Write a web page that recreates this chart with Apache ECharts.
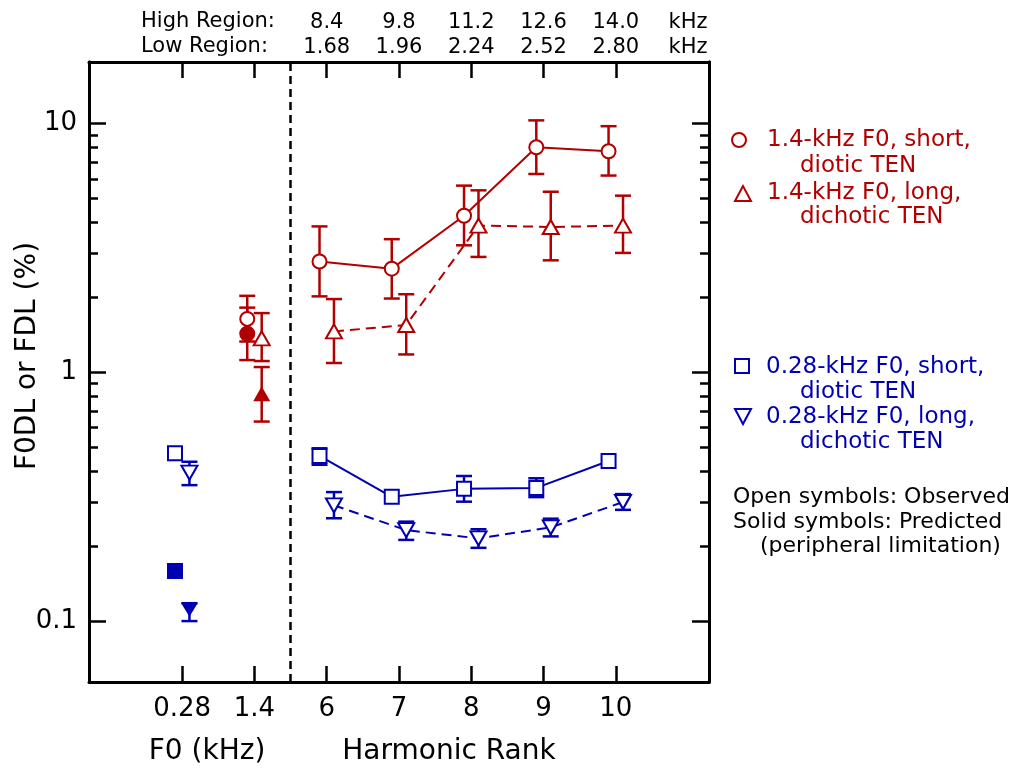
<!DOCTYPE html>
<html>
<head>
<meta charset="utf-8">
<title>F0DL / FDL</title>
<script src="https://cdn.jsdelivr.net/npm/echarts@6/dist/echarts.min.js"></script>
<style>
html, body { margin: 0; padding: 0; background: #fff; }
#chart { width: 1021px; height: 771px; }
</style>
</head>
<body>
<div id="chart"></div>
<script>
// x categories (bottom axis): two F0 values, then harmonic ranks 6..10
const bottomTickLabels = ['0.28', '1.4', '6', '7', '8', '9', '10'];
const harmonicRanks = ['6', '7', '8', '9', '10'];
const highRegionKHz = ['8.4', '9.8', '11.2', '12.6', '14.0', 'kHz'];
const lowRegionKHz = ['1.68', '1.96', '2.24', '2.52', '2.80', 'kHz'];
const yTickValues = [0.1, 1, 10];
const yTickLabels = ['0.1', '1', '10'];
const yRange = [0.0569, 17.68];

// harmonic-rank conditions (observed)
const red14Short = [2.79, 2.61, 4.26, 8.03, 7.74];
const red14ShortLo = [2.02, 1.98, 3.24, 6.27, 6.18];
const red14ShortHi = [3.86, 3.43, 5.63, 10.3, 9.76];

const red14Long = [1.46, 1.55, 3.89, 3.84, 3.89];
const red14LongLo = [1.09, 1.18, 2.91, 2.82, 3.02];
const red14LongHi = [1.97, 2.06, 5.39, 5.32, 5.13];

const blue028Short = [0.461, 0.316, 0.340, 0.343, 0.440];
const blue028ShortLo = [0.425, null, 0.302, 0.315, null];
const blue028ShortHi = [0.495, null, 0.383, 0.375, null];

const blue028Long = [0.292, 0.232, 0.215, 0.238, 0.301];
const blue028LongLo = [0.259, 0.212, 0.197, 0.219, 0.280];
const blue028LongHi = [0.330, 0.251, 0.234, 0.258, 0.324];

// F0 conditions: observed (open) and predicted (solid)
const f0Red = '1.4';
const f0Blue = '0.28';
const red14ShortF0 = 1.64, red14ShortF0Lo = 1.33, red14ShortF0Hi = 2.03;
const red14LongF0 = 1.37, red14LongF0Lo = 1.11, red14LongF0Hi = 1.73;
const blue028ShortF0 = 0.473, blue028ShortF0Lo = 0.445, blue028ShortF0Hi = 0.50;
const blue028LongF0 = 0.395, blue028LongF0Lo = 0.352, blue028LongF0Hi = 0.437;
const red14ShortPred = 1.43, red14ShortPredLo = 1.12, red14ShortPredHi = 1.82;
const red14LongPred = 0.82, red14LongPredLo = 0.634, red14LongPredHi = 1.05;
const blue028ShortPred = 0.159;
const blue028LongPred = 0.111, blue028LongPredLo = 0.100, blue028LongPredHi = 0.118;

const RED = '#b20000';
const BLUE = '#0000b2';
const FONT = 'DejaVu Sans';
const SHIFT = 0.1;      // left/right jitter of the paired symbols
const dividerAt = 1.5;  // dashed line between F0 panel and harmonic panel

const lg = Math.log10;
const xOf = (label) => bottomTickLabels.indexOf(label);
const pts = (vals, dx) => vals.map((v, i) => [xOf(harmonicRanks[i]) + dx, lg(v)]);
const bars = (lo, hi, dx) => lo.map((l, i) => l == null ? null : [xOf(harmonicRanks[i]) + dx, lg(l), lg(hi[i])]).filter(d => d);

// minor log ticks 0.2..0.9 and 2..9
const minorTicks = [];
[0.1, 1].forEach(d => {
    for (let k = 2; k <= 9; k++) minorTicks.push(lg(d * k));
});

const errorBar = (params, api) => {
    const x = api.value(0);
    const pLo = api.coord([x, api.value(1)]);
    const pHi = api.coord([x, api.value(2)]);
    const w = 8;
    const style = { stroke: api.visual('color'), lineWidth: 2.5, fill: null };
    return {
        type: 'group',
        children: [
            { type: 'line', shape: { x1: pHi[0], y1: pHi[1], x2: pLo[0], y2: pLo[1] }, style },
            { type: 'line', shape: { x1: pHi[0] - w, y1: pHi[1], x2: pHi[0] + w, y2: pHi[1] }, style },
            { type: 'line', shape: { x1: pLo[0] - w, y1: pLo[1], x2: pLo[0] + w, y2: pLo[1] }, style }
        ]
    };
};

const errSeries = (data, color) => ({
    type: 'custom',
    renderItem: errorBar,
    itemStyle: { color: color },
    encode: { x: 0, y: [1, 2] },
    data: data,
    z: 1,
    silent: true
});

const openSym = (color) => ({ color: '#fff', borderColor: color, borderWidth: 2, opacity: 1 });
const solidSym = (color) => ({ color: color, opacity: 1 });

const xMin = -1.29, xMax = 7.29;
const tickIdx = bottomTickLabels.map((_, i) => i);
const topLabelIdx = highRegionKHz.map((_, i) => i + 2);

const xAxisBase = {
    type: 'value', min: xMin, max: xMax,
    splitLine: { show: false },
    axisLine: { onZero: false, lineStyle: { color: '#000', width: 3 } },
    axisTick: { inside: true, length: 16, customValues: tickIdx, lineStyle: { color: '#000', width: 2.5 } }
};
const yAxisBase = (pos, major) => ({
    type: 'value', position: pos, min: lg(yRange[0]), max: lg(yRange[1]),
    splitLine: { show: false },
    axisLine: { onZero: false, lineStyle: { color: '#000', width: 3 } },
    axisTick: {
        inside: true, length: major ? 17 : 9,
        customValues: major ? yTickValues.map(lg) : minorTicks,
        lineStyle: { color: '#000', width: 2.5 }
    },
    axisLabel: (major && pos === 'left') ? {
        customValues: yTickValues.map(lg),
        formatter: (v) => yTickLabels[yTickValues.map(lg).findIndex(t => Math.abs(t - v) < 1e-6)],
        color: '#000', fontSize: 26, fontFamily: FONT, margin: 12
    } : { show: false }
});

const textStyle = (text, x, y, color, size, align) => ({
    type: 'text', x: x, y: y,
    style: { text: text, fill: color, font: size + 'px "' + FONT + '"', align: align || 'left', verticalAlign: 'middle' }
});

const chart = echarts.init(document.getElementById('chart'));
chart.setOption({
    backgroundColor: '#fff',
    animation: false,
    grid: { left: 89, top: 62, width: 620, height: 620 },
    xAxis: [
        Object.assign({}, xAxisBase, {
            position: 'bottom',
            axisLabel: {
                customValues: tickIdx,
                formatter: (v) => bottomTickLabels[Math.round(v)],
                color: '#000', fontSize: 26, fontFamily: FONT, margin: 14
            }
        }),
        Object.assign({}, xAxisBase, {
            position: 'top',
            axisLabel: {
                customValues: topLabelIdx,
                formatter: (v) => highRegionKHz[Math.round(v) - 2] + '\n' + lowRegionKHz[Math.round(v) - 2],
                color: '#000', fontSize: 21, lineHeight: 25, fontFamily: FONT, margin: 2
            }
        })
    ],
    yAxis: [
        yAxisBase('left', true),
        yAxisBase('left', false),
        yAxisBase('right', true),
        yAxisBase('right', false)
    ],
    series: [
        errSeries(bars(red14ShortLo, red14ShortHi, -SHIFT), RED),
        errSeries(bars(red14LongLo, red14LongHi, SHIFT), RED),
        errSeries(bars(blue028ShortLo, blue028ShortHi, -SHIFT), BLUE),
        errSeries(bars(blue028LongLo, blue028LongHi, SHIFT), BLUE),
        errSeries([
            [xOf(f0Red) - SHIFT, lg(red14ShortF0Lo), lg(red14ShortF0Hi)],
            [xOf(f0Red) - SHIFT, lg(red14ShortPredLo), lg(red14ShortPredHi)],
            [xOf(f0Red) + SHIFT, lg(red14LongF0Lo), lg(red14LongF0Hi)],
            [xOf(f0Red) + SHIFT, lg(red14LongPredLo), lg(red14LongPredHi)]
        ], RED),
        errSeries([
            [xOf(f0Blue) - SHIFT, lg(blue028ShortF0Lo), lg(blue028ShortF0Hi)],
            [xOf(f0Blue) + SHIFT, lg(blue028LongF0Lo), lg(blue028LongF0Hi)],
            [xOf(f0Blue) + SHIFT, lg(blue028LongPredLo), lg(blue028LongPredHi)]
        ], BLUE),
        {
            name: '1.4-kHz F0, short, diotic TEN', type: 'line', z: 3,
            data: pts(red14Short, -SHIFT),
            symbol: 'circle', symbolSize: 14, itemStyle: openSym(RED),
            lineStyle: { color: RED, width: 2 },
            markLine: {
                silent: true, symbol: 'none', label: { show: false },
                lineStyle: { color: '#000', type: [8, 5], width: 2.5 },
                data: [{ xAxis: dividerAt }]
            }
        },
        {
            name: '1.4-kHz F0, long, dichotic TEN', type: 'line', z: 3,
            data: pts(red14Long, SHIFT),
            symbol: 'triangle', symbolSize: [16, 14], itemStyle: openSym(RED),
            lineStyle: { color: RED, width: 2, type: [10, 6] }
        },
        {
            name: '0.28-kHz F0, short, diotic TEN', type: 'line', z: 3,
            data: pts(blue028Short, -SHIFT),
            symbol: 'rect', symbolSize: 14, itemStyle: openSym(BLUE),
            lineStyle: { color: BLUE, width: 2 }
        },
        {
            name: '0.28-kHz F0, long, dichotic TEN', type: 'line', z: 3,
            data: pts(blue028Long, SHIFT),
            symbol: 'triangle', symbolRotate: 180, symbolSize: [16, 14], itemStyle: openSym(BLUE),
            lineStyle: { color: BLUE, width: 2, type: [10, 6] }
        },
        // F0 panel, observed (open)
        { type: 'scatter', z: 4, symbol: 'circle', symbolSize: 14, itemStyle: openSym(RED),
          data: [[xOf(f0Red) - SHIFT, lg(red14ShortF0)]] },
        { type: 'scatter', z: 4, symbol: 'triangle', symbolSize: [16, 14], itemStyle: openSym(RED),
          data: [[xOf(f0Red) + SHIFT, lg(red14LongF0)]] },
        { type: 'scatter', z: 4, symbol: 'rect', symbolSize: 14, itemStyle: openSym(BLUE),
          data: [[xOf(f0Blue) - SHIFT, lg(blue028ShortF0)]] },
        { type: 'scatter', z: 4, symbol: 'triangle', symbolRotate: 180, symbolSize: [16, 14], itemStyle: openSym(BLUE),
          data: [[xOf(f0Blue) + SHIFT, lg(blue028LongF0)]] },
        // F0 panel, predicted (solid)
        { type: 'scatter', z: 5, symbol: 'circle', symbolSize: 16, itemStyle: solidSym(RED),
          data: [[xOf(f0Red) - SHIFT, lg(red14ShortPred)]] },
        { type: 'scatter', z: 5, symbol: 'triangle', symbolSize: [17, 15], itemStyle: solidSym(RED),
          data: [[xOf(f0Red) + SHIFT, lg(red14LongPred)]] },
        { type: 'scatter', z: 5, symbol: 'rect', symbolSize: 16, itemStyle: solidSym(BLUE),
          data: [[xOf(f0Blue) - SHIFT, lg(blue028ShortPred)]] },
        { type: 'scatter', z: 5, symbol: 'triangle', symbolRotate: 180, symbolSize: [17, 14], itemStyle: solidSym(BLUE),
          data: [[xOf(f0Blue) + SHIFT, lg(blue028LongPred)]] }
    ],
    graphic: [
        textStyle('High Region:', 141, 22, '#000', 21),
        textStyle('Low Region:', 141, 47, '#000', 21),
        textStyle('F0 (kHz)', 207, 752, '#000', 28, 'center'),
        textStyle('Harmonic Rank', 449, 752, '#000', 28, 'center'),
        {
            type: 'text', x: 28, y: 356, rotation: Math.PI / 2,
            style: { text: 'F0DL or FDL (%)', fill: '#000', font: '28px "' + FONT + '"', align: 'center', verticalAlign: 'middle' }
        },
        // legend
        { type: 'circle', shape: { cx: 739, cy: 140, r: 7 }, style: { fill: null, stroke: RED, lineWidth: 2 } },
        textStyle('1.4-kHz F0, short,', 767, 140, RED, 23),
        textStyle('diotic TEN', 800, 166, RED, 23),
        { type: 'polygon', shape: { points: [[743, 186], [735, 201], [751, 201]] }, style: { fill: null, stroke: RED, lineWidth: 2 } },
        textStyle('1.4-kHz F0, long,', 767, 193, RED, 23),
        textStyle('dichotic TEN', 800, 217, RED, 23),
        { type: 'rect', shape: { x: 735, y: 359, width: 14, height: 14 }, style: { fill: null, stroke: BLUE, lineWidth: 2 } },
        textStyle('0.28-kHz F0, short,', 766, 367, BLUE, 23),
        textStyle('diotic TEN', 800, 392, BLUE, 23),
        { type: 'polygon', shape: { points: [[735, 409], [751, 409], [743, 424]] }, style: { fill: null, stroke: BLUE, lineWidth: 2 } },
        textStyle('0.28-kHz F0, long,', 766, 417, BLUE, 23),
        textStyle('dichotic TEN', 800, 442, BLUE, 23),
        textStyle('Open symbols: Observed', 733, 497, '#000', 22),
        textStyle('Solid symbols: Predicted', 733, 522, '#000', 22),
        textStyle('(peripheral limitation)', 760, 546, '#000', 22)
    ]
});
window.addEventListener('resize', () => chart.resize());
</script>
</body>
</html>
